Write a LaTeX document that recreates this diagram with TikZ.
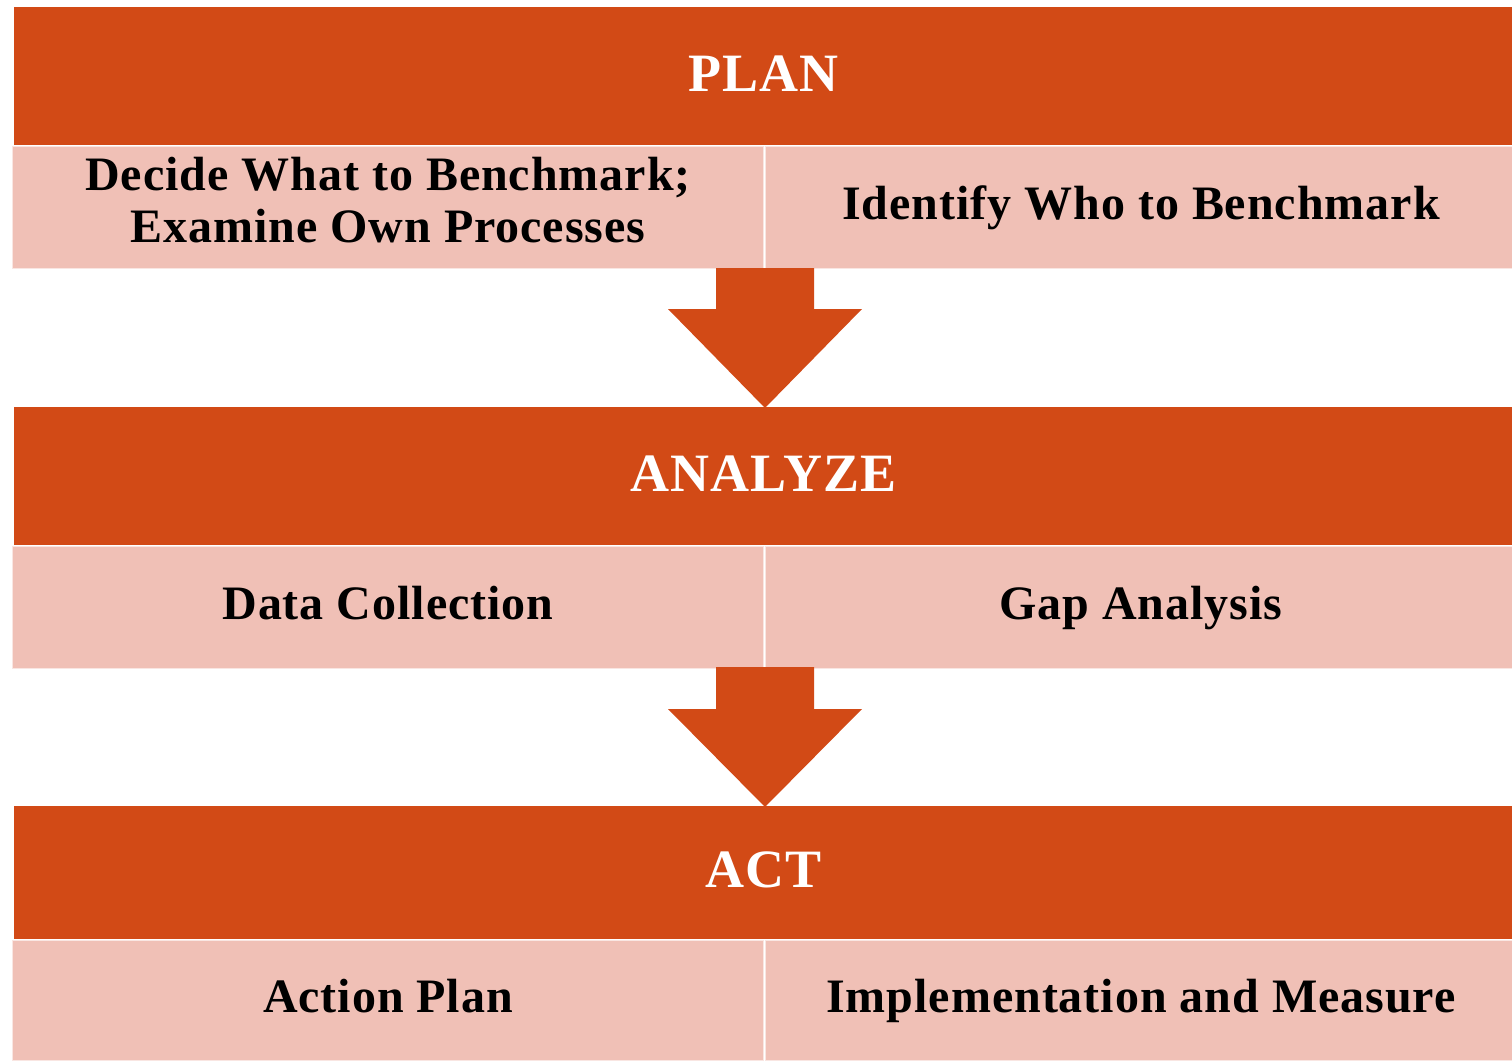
\documentclass[tikz,border=0pt]{standalone}
\usepackage{fontspec}
\setmainfont{Liberation Serif}[LetterSpace=2]
\usetikzlibrary{positioning,calc}
\definecolor{phaseorange}{RGB}{210,74,22}
\definecolor{taskpink}{RGB}{240,192,182}
\tikzset{
	phase/.style={fill=phaseorange,text=white,inner sep=0pt,anchor=north west,
		minimum width=749pt,minimum height=69pt,text height=19pt,text depth=4pt,
		font=\fontsize{27}{30}\selectfont\bfseries},
	task/.style={fill=taskpink,draw=taskpink!40!white,line width=0.5pt,text=black,
		inner sep=0pt,anchor=north west,align=center,
		minimum width=375.5pt,minimum height=61pt,
		font=\fontsize{24}{26}\selectfont\bfseries},
	oneline/.style={task,text height=17pt,text depth=5.5pt},
	blockarrow/.style={fill=phaseorange},
}

\begin{document}
\begin{tikzpicture}[x=0.5pt,y=-0.5pt]
	\useasboundingbox (0,0) rectangle (1512,1061);

	% PLAN..........................
	\node [phase] (plan) at (14,7) {PLAN};
	\node [task, text depth=8pt] (decide) at (12,146) {Decide What to Benchmark;\\Examine Own Processes};
	\node [oneline] (identify) at (765,146) {Identify Who to Benchmark};

	% arrow plan -> analyze...........
	\fill [blockarrow] (716,268) -- (814,268) -- (814,309) -- (862,309)
		-- (765,408) -- (668,309) -- (716,309) -- cycle;

	% ANALYZE.......................
	\node [phase] (analyze) at (14,407) {ANALYZE};
	\node [oneline] (collect) at (12,546) {Data Collection};
	\node [oneline] (gap) at (765,546) {Gap Analysis};

	% arrow analyze -> act............
	\fill [blockarrow] (716,667) -- (814,667) -- (814,709) -- (862,709)
		-- (765,807) -- (668,709) -- (716,709) -- cycle;

	% ACT...........................
	\node [phase, minimum height=66.5pt] (act) at (14,806) {ACT};
	\node [oneline, minimum height=60pt] (action) at (12,940) {Action Plan};
	\node [oneline, minimum height=60pt] (measure) at (765,940) {Implementation and Measure};
\end{tikzpicture}
\end{document}
